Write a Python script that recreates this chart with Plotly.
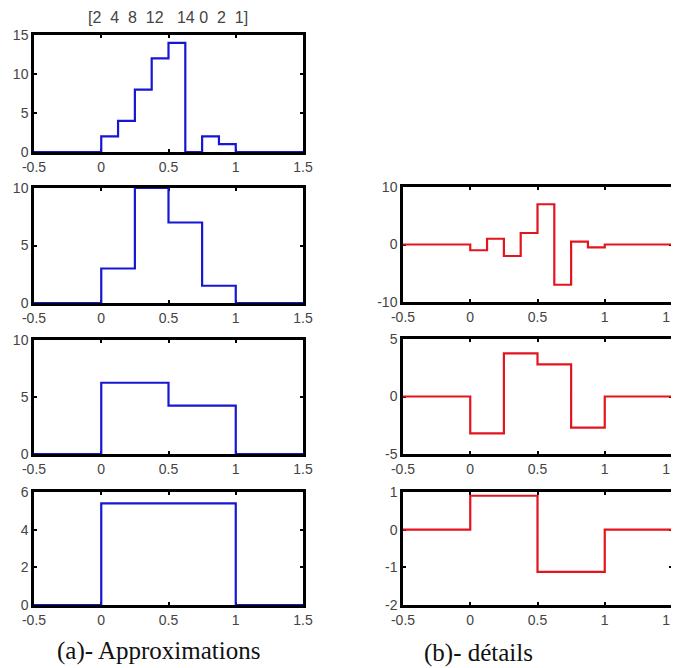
import plotly.graph_objects as go

# Haar decomposition of the signal [2 4 8 12 14 0 2 1]
signal = [2, 4, 8, 12, 14, 0, 2, 1]
approx_1 = [3, 10, 7, 1.5]
approx_2 = [6.25, 4.25]
approx_3 = [5.4]
detail_1 = [-1, 1, -2, 2, 7, -7, 0.5, -0.5]
detail_2 = [-3.2, 3.75, 2.8, -2.7]
detail_3 = [0.9, -1.12]

x_ticks = [-0.5, 0, 0.5, 1, 1.5]
x_ticktext = ["-0.5", "0", "0.5", "1", "1.5"]

# page body has an 8px margin, so the figure is drawn 8px smaller and shifted
OFF = 8
W, H = 679 - OFF, 668 - OFF
BLUE = "#1616d4"
RED = "#e3141e"


def step_xy(vals):
    n = len(vals)
    xs = [-0.5] + [i / n for i in range(n)] + [1, 1.5]
    ys = [0] + list(vals) + [0, 0]
    return xs, ys


def px_x(p):
    return (p - OFF) / W


def px_y(p):
    return 1 - (p - OFF) / H


def spaced(parts, gaps):
    out = parts[0]
    for g, p in zip(gaps, parts[1:]):
        out += "&nbsp;" * g + p
    return out


# (values, color, x pixels, y pixels, y range, y ticks)
panels = [
    (signal, BLUE, (34, 303), (35, 152), [0, 15], [0, 5, 10, 15]),
    (approx_1, BLUE, (34, 303), (188, 303), [0, 10], [0, 5, 10]),
    (approx_2, BLUE, (34, 303), (340, 454), [0, 10], [0, 5, 10]),
    (approx_3, BLUE, (34, 303), (492, 605), [0, 6], [0, 2, 4, 6]),
    (detail_1, RED, (403, 672), (187, 302), [-10, 10], [-10, 0, 10]),
    (detail_2, RED, (403, 672), (339, 454), [-5, 5], [-5, 0, 5]),
    (detail_3, RED, (403, 672), (492, 605), [-2, 1], [-2, -1, 0, 1]),
]

fig = go.Figure()
tick_font = dict(family="Liberation Sans, Arial", size=14, color="#444444")

for i, (vals, color, (x0, x1), (y0, y1), yr, yt) in enumerate(panels):
    k = "" if i == 0 else str(i + 1)
    xs, ys = step_xy(vals)
    fig.add_trace(go.Scatter(
        x=xs, y=ys, mode="lines", line_shape="hv",
        line=dict(color=color, width=2.2),
        xaxis="x" + k, yaxis="y" + k, showlegend=False
    ))
    common = dict(showline=True, linecolor="black", linewidth=2.5, mirror="ticks",
                  ticks="inside", ticklen=3, tickwidth=1.5, tickcolor="black",
                  showgrid=False, zeroline=False, tickfont=tick_font,
                  layer="below traces", automargin=False,
                  ticklabeloverflow="allow")
    fig.layout["xaxis" + k] = dict(
        domain=[px_x(x0), px_x(x1)], range=[-0.5, 1.5], anchor="y" + k,
        tickvals=x_ticks, ticktext=x_ticktext, ticklabelstandoff=0, **common)
    fig.layout["yaxis" + k] = dict(
        domain=[px_y(y1), px_y(y0)], range=yr, anchor="x" + k,
        tickvals=yt, ticktext=[str(v) for v in yt], ticklabelstandoff=0,
        **common)

title_text = "[" + spaced([str(v) for v in signal], [2, 2, 2, 3, 1, 2, 2]) + "]"
fig.add_annotation(text=title_text,
                   x=px_x(168), y=px_y(18), xref="paper", yref="paper",
                   xanchor="center", yanchor="middle", showarrow=False,
                   font=dict(family="Liberation Sans, Arial", size=16, color="#444444"))
fig.add_annotation(text="(a)- Approximations", x=px_x(158), y=px_y(651),
                   xref="paper", yref="paper", xanchor="center", yanchor="middle",
                   showarrow=False,
                   font=dict(family="Liberation Serif, Times New Roman", size=25, color="#111111"))
fig.add_annotation(text="(b)- détails", x=px_x(479), y=px_y(653),
                   xref="paper", yref="paper", xanchor="center", yanchor="middle",
                   showarrow=False,
                   font=dict(family="Liberation Serif, Times New Roman", size=25, color="#111111"))

fig.update_layout(
    width=W, height=H,
    margin=dict(l=0, r=0, t=0, b=0),
    paper_bgcolor="white", plot_bgcolor="white",
)

fig.write_html("out.html")
